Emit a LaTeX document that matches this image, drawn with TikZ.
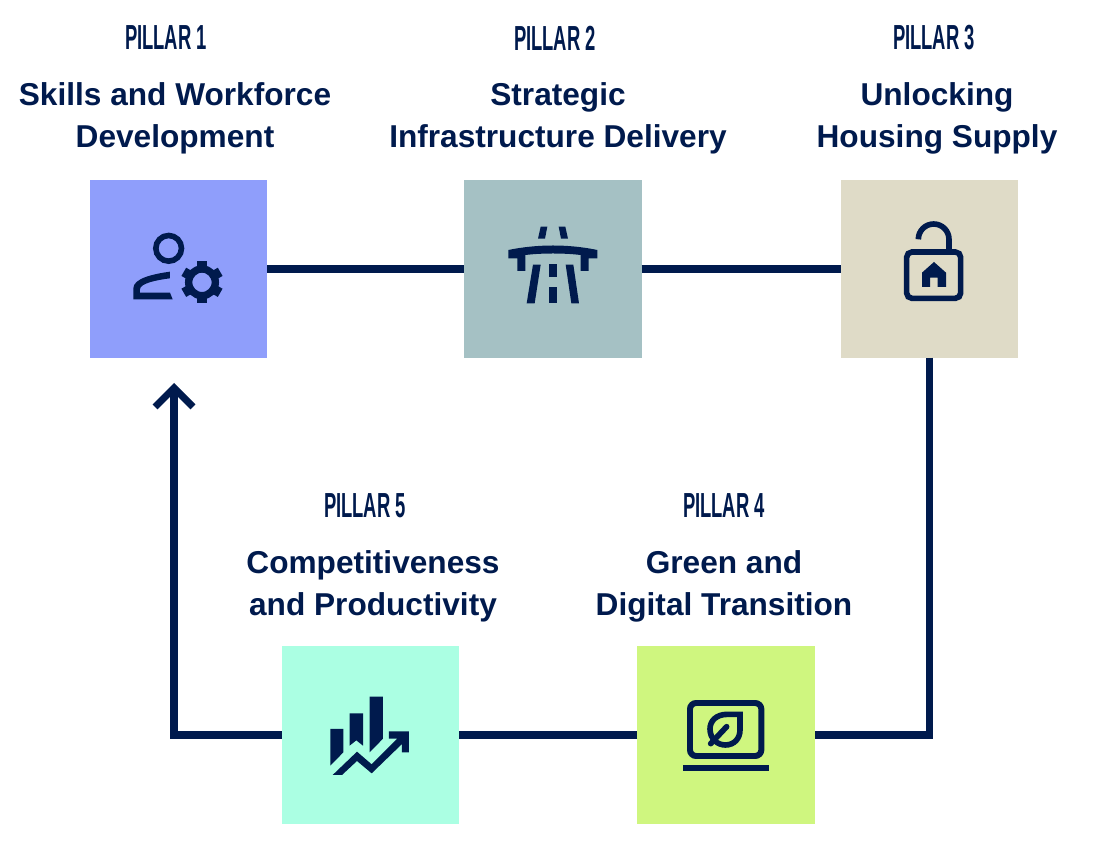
\documentclass[tikz,border=0pt]{standalone}
\usepackage{fontspec}
\setmainfont{Liberation Sans}
\usetikzlibrary{arrows.meta}
\definecolor{navy}{HTML}{001A4D}
\definecolor{pillarA}{HTML}{8F9EFB}
\definecolor{pillarB}{HTML}{A5C1C4}
\definecolor{pillarC}{HTML}{DFDBC7}
\definecolor{pillarD}{HTML}{CFF67F}
\definecolor{pillarE}{HTML}{ABFFE3}
\newfontfamily\pillarfont[FakeStretch=0.53]{Liberation Sans Bold}

\begin{document}
\begin{tikzpicture}[x=0.02cm, y=-0.02cm,
  tile/.style={minimum size=3.55cm, inner sep=0pt, outer sep=0pt},
  overline/.style={font=\pillarfont\fontsize{19.8}{22}\selectfont, text=navy, inner sep=0pt},
  title/.style={font=\bfseries\fontsize{18}{23.9}\selectfont, text=navy, align=center, inner sep=0pt},
  link/.style={draw=navy, line width=4pt},
  glyph/.style={x=0.02cm/3, y=-0.02cm/3},
  stroke/.style={draw=navy, line width=3.2pt},
]
\useasboundingbox (0,0) rectangle (1095,854);

% ============ TOP ROW: pillars 1 to 3 ============
\node[tile, fill=pillarA] (pillarone) at (178.5,269) {};
\node[tile, fill=pillarB] (pillartwo) at (553,269) {};
\node[tile, fill=pillarC] (pillarthree) at (929.5,269) {};

\node[overline] (headone) at (166,38) {PILLAR 1};
\node[overline] (headtwo) at (555,38) {PILLAR 2};
\node[overline] (headthree) at (934,38) {PILLAR 3};
\node[title] (nameone) at (175,118) {Skills and Workforce\\Development};
\node[title] (nametwo) at (558,118) {Strategic\\Infrastructure Delivery};
\node[title] (namethree) at (937,118) {Unlocking\\Housing Supply};

% ============ BOTTOM ROW: pillars 5 and 4 ============
\node[tile, fill=pillarE] (pillarfive) at (370.5,735) {};
\node[tile, fill=pillarD] (pillarfour) at (726,735) {};

\node[overline] (headfive) at (365,506) {PILLAR 5};
\node[overline] (headfour) at (724,506) {PILLAR 4};
\node[title] (namefive) at (373,586) {Competitiveness\\and Productivity};
\node[title] (namefour) at (724,586) {Green and\\Digital Transition};

% ============ CONNECTORS ============
\coordinate (tip) at (174,383);
\draw[link] (pillarone) -- (pillartwo);
\draw[link] (pillartwo) -- (pillarthree);
\draw[link] (pillarthree.south) |- (pillarfour.east);
\draw[link] (pillarfour) -- (pillarfive);
\draw[link, -{Straight Barb[length=0.38cm, width=0.76cm, line width=4pt]}] (pillarfive.west) -| (tip);

% ============ ICONS (units are a third of a pixel, from the tile corner) ============
% person and gear
\begin{scope}[shift={(90,180)}, glyph]
  \draw[stroke] (236,205) circle (38.5);
  \fill[navy] (240,275) .. controls (190,282) and (130,295) .. (130,325) -- (130,358) -- (248,358)
    -- (240,338) -- (150,338) -- (150,328) .. controls (150,310) and (200,300) .. (240,295) -- cycle;
  \draw[draw=navy, line width=4.2pt] (336,307) circle (40);
  \foreach \a in {30,90,...,330}
    \draw[navy, line width=5.4pt] (336,307) ++(\a:44) -- ++(\a:19);
\end{scope}

% road under a bridge
\begin{scope}[shift={(464,180)}, glyph]
  \fill[navy] (133,210) .. controls (220,192) and (314,192) .. (400,210) -- (400,235) -- (374,235)
    -- (374,273) -- (350,273) -- (350,225) .. controls (300,219) and (234,219) .. (184,225)
    -- (184,273) -- (160,273) -- (160,235) -- (133,235) -- cycle;
  \fill[navy] (230,140) -- (250,140) -- (243,176) -- (222,176) -- cycle;
  \fill[navy] (284,140) -- (304,140) -- (312,176) -- (291,176) -- cycle;
  \fill[navy] (207,254) -- (230,254) -- (212,370) -- (188,370) -- cycle;
  \fill[navy] (305,254) -- (328,254) -- (345,370) -- (322,370) -- cycle;
  \fill[navy] (255,252) rectangle (279,290);
  \fill[navy] (255,322) rectangle (279,370);
\end{scope}

% open padlock with a house
\begin{scope}[shift={(840,180)}, glyph]
  \draw[stroke, rounded corners=3pt] (200,216) rectangle (362,355);
  \draw[stroke] (235,178) arc[start angle=180, end angle=360, radius=46] -- (327,212);
  \fill[navy] (282,246) -- (318,278) -- (318,321) -- (293,321) -- (293,293) -- (270,293) -- (270,321)
    -- (246,321) -- (246,278) -- cycle;
\end{scope}

% laptop with a leaf
\begin{scope}[shift={(636,645)}, glyph]
  \draw[stroke, line width=3.4pt, rounded corners=3.5pt] (162,174) rectangle (376,333);
  \fill[navy] (141,360) rectangle (398,379);
  \draw[stroke, line join=miter] (312,208) -- (275,208) .. controls (240,208) and (222,228) .. (222,252)
    .. controls (222,282) and (245,300) .. (268,300) .. controls (295,300) and (312,280) .. (312,255) -- cycle;
  \draw[stroke, line cap=round] (224,296) -- (272,245);
\end{scope}

% bar chart with a rising arrow
\begin{scope}[shift={(280,645)}, glyph]
  \fill[navy] (151,252) -- (190,252) -- (190,322) -- (151,362) -- cycle;
  \fill[navy] (209,205) -- (249,205) -- (249,302) -- (229,286) -- (209,302) -- cycle;
  \fill[navy] (269,155) -- (309,155) -- (309,281) -- (269,322) -- cycle;
  \fill[navy] (158,390) -- (231,320) -- (275,358) -- (352,281) -- (327,281) -- (327,259) -- (387,259)
    -- (387,322) -- (366,322) -- (366,297) -- (275,385) -- (231,348) -- (186,390) -- cycle;
\end{scope}
\end{tikzpicture}
\end{document}
